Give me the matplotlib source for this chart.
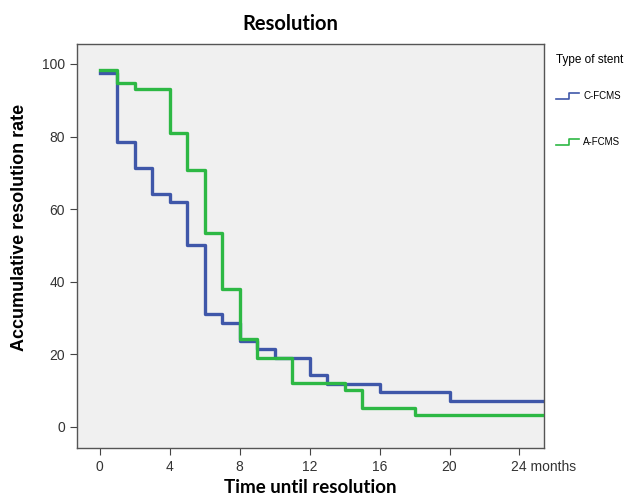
import matplotlib
matplotlib.use('Agg')
import matplotlib.pyplot as plt
from matplotlib.lines import Line2D
from matplotlib.legend_handler import HandlerBase
import matplotlib.transforms as mtransforms

#Kaplan-Meier style step data (months, % unresolved)
c_time = [0, 1, 2, 3, 4, 5, 6, 7, 8, 9, 10, 12, 13, 16, 20]
c_rate = [97.6, 78.6, 71.4, 64.3, 61.9, 50.0, 31.0, 28.6, 23.8, 21.4, 19.0, 14.3, 11.9, 9.5, 7.1]
a_time = [0, 1, 2, 4, 5, 6, 7, 8, 9, 11, 14, 15, 18]
a_rate = [98.3, 94.8, 93.1, 81.0, 70.7, 53.4, 37.9, 24.1, 19.0, 12.1, 10.3, 5.2, 3.4]
series_names = ['C-FCMS', 'A-FCMS']
x_ticks = [0, 4, 8, 12, 16, 20, 24]
x_labels = ['0', '4', '8', '12', '16', '20', '24 months']
y_ticks = [0, 20, 40, 60, 80, 100]
x_end = 25.4

blue = '#3f57a9'
green = '#2db844'


#Legend handle drawn as a small step, like the SPSS output.
class StepHandler(HandlerBase):
    def create_artists(self, legend, orig_handle, xdescent, ydescent,
                       width, height, fontsize, trans):
        x0 = -xdescent
        y0 = -ydescent
        xs = [x0, x0 + 0.55 * width, x0 + 0.55 * width, x0 + width]
        ys = [y0 + 0.1 * height, y0 + 0.1 * height, y0 + 0.9 * height, y0 + 0.9 * height]
        ln = Line2D(xs, ys, color=orig_handle.get_color(), lw=1.2)
        ln.set_transform(trans)
        return [ln]


fig = plt.figure(figsize=(6.27, 5.0), dpi=100)
ax = fig.add_axes([0.1228, 0.104, 0.7448, 0.808])
ax.set_facecolor('#f0f0f0')

#Extend each curve to the right edge with its last value.
cx = c_time + [x_end]
cy = c_rate + [c_rate[-1]]
ax_ = a_time + [x_end]
ay = a_rate + [a_rate[-1]]
h1, = ax.step(cx, cy, where='post', color=blue, lw=2.4, zorder=2)
h2, = ax.step(ax_, ay, where='post', color=green, lw=2.4, zorder=3)

ax.set_xlim(-1.3, x_end)
ax.set_ylim(-5.8, 105.5)
ax.set_xticks(x_ticks)
ax.set_xticklabels(x_labels)
ax.set_yticks(y_ticks)
ax.tick_params(direction='out', length=5, width=0.8, colors='#444444',
               labelsize=10, labelcolor='#333333')
for lab in ax.get_xticklabels() + ax.get_yticklabels():
    lab.set_family('Liberation Sans')

#"24 months": keep "24" centred on its tick.
last = ax.get_xticklabels()[-1]
last.set_horizontalalignment('left')
last.set_transform(last.get_transform() +
                   mtransforms.ScaledTranslation(-8 / 100, 0, fig.dpi_scale_trans))

for s in ax.spines.values():
    s.set_color('#555555')
    s.set_linewidth(1.0)

ax.set_title('Resolution', fontsize=14.5, fontweight='bold', family='Lato',
             x=0.456, pad=10)
ax.set_xlabel('Time until resolution', fontsize=13.5, fontweight='bold',
              family='Lato', labelpad=4)
ax.set_ylabel('Accumulative resolution rate', fontsize=13, fontweight='bold',
              family='Liberation Sans')
ax.yaxis.set_label_coords(-0.105, 0.545)

leg = fig.legend([h1, h2], series_names, title='Type of stent',
                 loc='upper left', bbox_to_anchor=(0.873, 0.909),
                 frameon=False, fontsize=7, title_fontsize=8.5,
                 handlelength=2.4, handleheight=0.9, handletextpad=0.4,
                 labelspacing=3.7, alignment='left',
                 handler_map={Line2D: StepHandler()})
#tighter gap between the title and the first entry
leg._legend_box.sep = 18
for t in leg.get_texts():
    t.set_family('Liberation Sans')
leg.get_title().set_family('Liberation Sans')

fig.savefig('out.png', dpi=100)
